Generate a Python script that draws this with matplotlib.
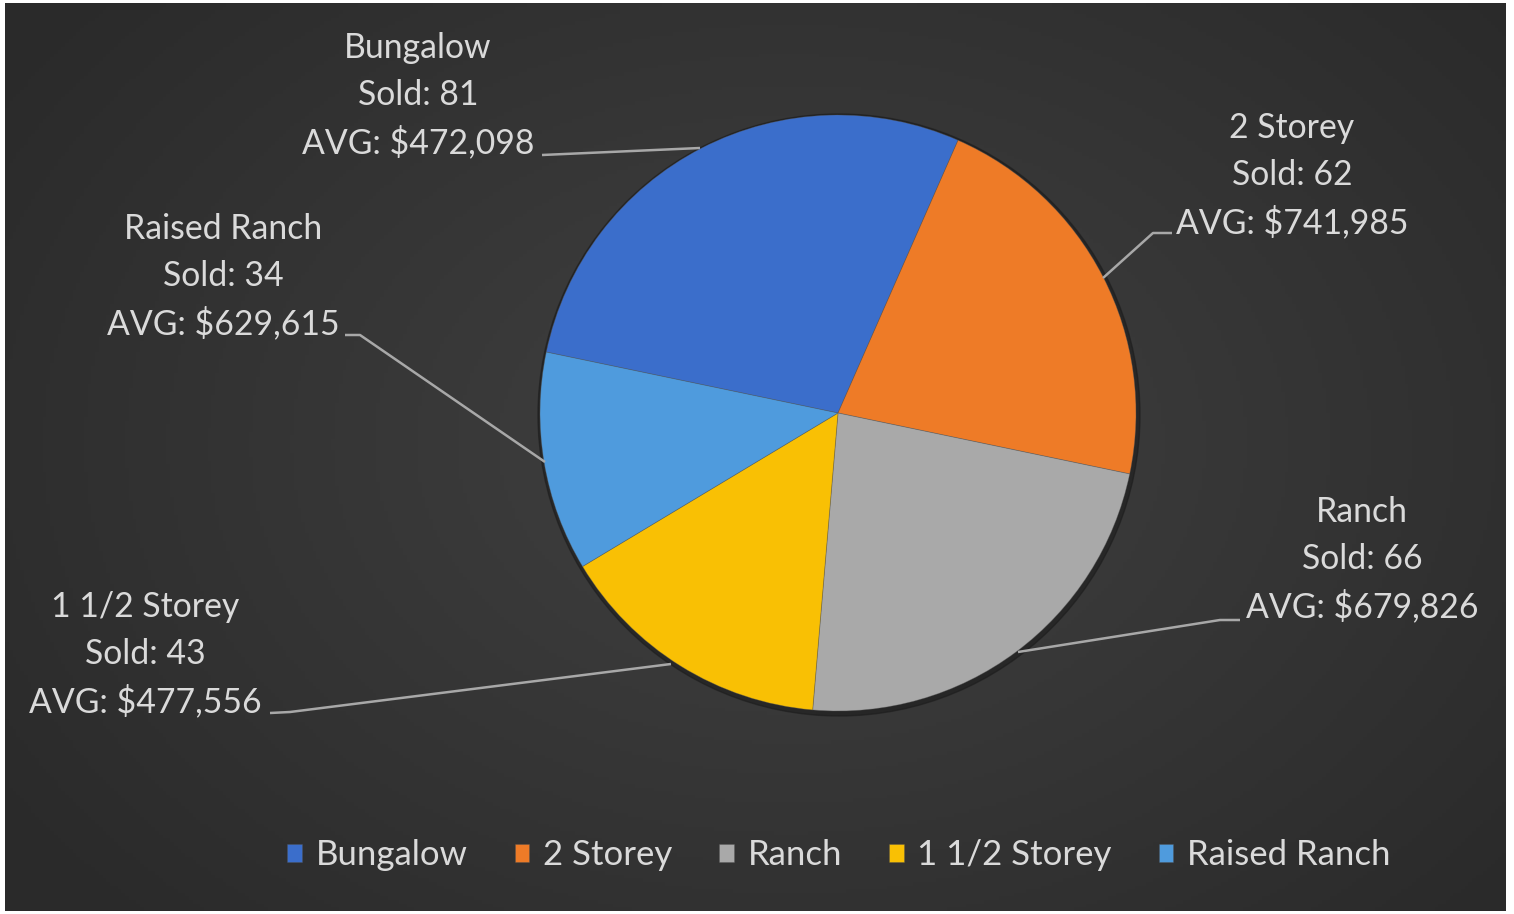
import numpy as np
import matplotlib
matplotlib.use("Agg")
import matplotlib.pyplot as plt
from matplotlib.patches import Circle

plt.rcParams['font.family'] = ['Lato', 'DejaVu Sans']

# house types, units sold and average price
types = ["Bungalow", "2 Storey", "Ranch", "1 1/2 Storey", "Raised Ranch"]
sold = [81, 62, 66, 43, 34]
avg_price = [472098, 741985, 679826, 477556, 629615]
colors = ["#3b6ecb", "#ee7b27", "#a9a9a9", "#f9c004", "#4f9bdd"]

W, H = 1514, 914
fig = plt.figure(figsize=(W / 100, H / 100), dpi=100, facecolor="white")

# dark panel in pixel units (y measured upward)
x0, x1, y0, y1 = 5, 1506, 3, 911
ax = fig.add_axes([x0 / W, y0 / H, (x1 - x0) / W, (y1 - y0) / H])
ax.set_xlim(x0, x1)
ax.set_ylim(y0, y1)
ax.axis("off")

# radial background, lighter in the middle
gx, gy = np.meshgrid(np.linspace(x0, x1, 400), np.linspace(y0, y1, 250))
d = np.sqrt(((gx - 790) / 900) ** 2 + ((gy - 470) / 650) ** 2)
shade = np.clip(0.255 - 0.085 * d, 0.165, 0.255)
bg = np.dstack([shade, shade, shade])
ax.imshow(bg, extent=[x0, x1, y0, y1], origin="lower", aspect="auto", zorder=0)

cx, cy, r = 838, H - 413, 298

ax.add_patch(Circle((cx + 1, cy - 2), r + 3, color="#1c1c1c", alpha=0.6, zorder=1))
wedges, _ = ax.pie(sold, colors=colors, startangle=168.2, counterclock=False,
                   center=(cx, cy), radius=r, frame=True,
                   wedgeprops=dict(linewidth=0.6, edgecolor="#55555566"))
for w in wedges:
    w.set_zorder(2)
ax.set_xlim(x0, x1)
ax.set_ylim(y0, y1)
ax.set_aspect("auto")
ax.axis("off")

text_color = "#dadada"
line_color = "#a8a8a8"

# label block centre (x, y of top line) and leader line points, pixel coords
label_pos = {
    "Bungalow": (418, 48),
    "2 Storey": (1292, 128),
    "Ranch": (1362, 512),
    "1 1/2 Storey": (145, 607),
    "Raised Ranch": (223, 229),
}
leaders = {
    "Bungalow": [(542, 155), (700, 148)],
    "2 Storey": [(1172, 233), (1153, 233), (1103, 278)],
    "Ranch": [(1240, 620), (1220, 620), (1018, 652)],
    "1 1/2 Storey": [(270, 713), (290, 712), (671, 664)],
    "Raised Ranch": [(345, 335), (360, 335), (545, 462)],
}

for name, n, p in zip(types, sold, avg_price):
    lx, ly = label_pos[name]
    lines = [name, f"Sold: {n}", f"AVG: ${p:,}"]
    for i, s in enumerate(lines):
        ax.text(lx, H - (ly + 47 * i), s, color=text_color, fontsize=24.3,
                ha="center", va="center", zorder=5)
    pts = leaders[name]
    ax.plot([q[0] for q in pts], [H - q[1] for q in pts], color=line_color,
            lw=1.8, zorder=3, solid_capstyle="butt")

leg = ax.legend(wedges, types, loc="center",
                bbox_to_anchor=((839 - x0) / (x1 - x0), (H - 855 - y0) / (y1 - y0)),
                ncol=5, frameon=False, fontsize=25, labelcolor=text_color,
                handlelength=0.42, handleheight=0.42, handletextpad=0.4,
                columnspacing=1.35, borderpad=0)

fig.savefig("out.png", dpi=100, facecolor="white")
